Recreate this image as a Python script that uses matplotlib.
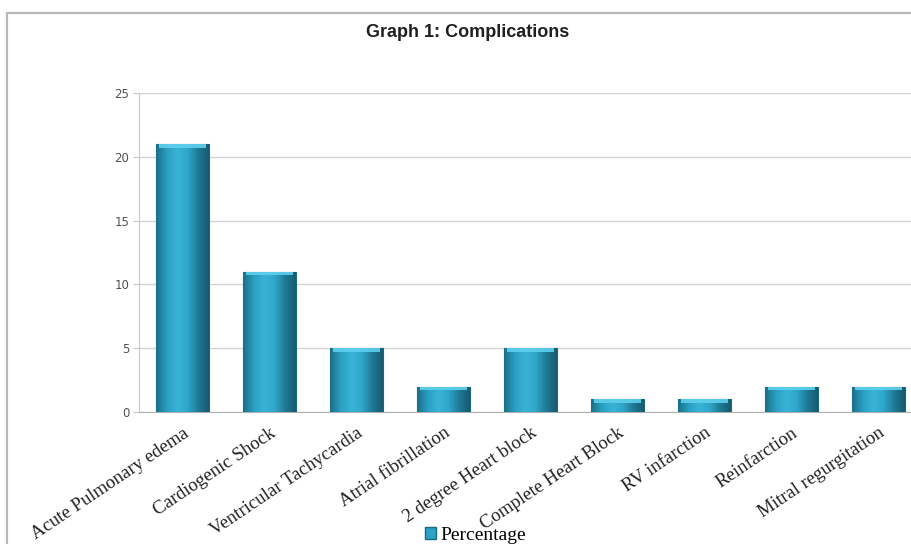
import numpy as np
import matplotlib
matplotlib.use("Agg")
import matplotlib.pyplot as plt
from matplotlib.colors import LinearSegmentedColormap
from matplotlib.patches import Rectangle, Patch

categories = [
    "Acute Pulmonary edema",
    "Cardiogenic Shock",
    "Ventricular Tachycardia",
    "Atrial fibrillation",
    "2 degree Heart block",
    "Complete Heart Block",
    "RV infarction",
    "Reinfarction",
    "Mitral regurgitation",
]
percentage = [21, 11, 5, 2, 5, 1, 1, 2, 2]
y_ticks = [0, 5, 10, 15, 20, 25]

bar_cmap = LinearSegmentedColormap.from_list(
    "bevel", ["#1b6f88", "#2a9fc2", "#38b3d6", "#2fa7ca", "#1f7a96", "#175b70"]
)


def shade_bars(ax, bars):
    grad = np.linspace(0, 1, 64).reshape(1, -1)
    for bar in bars:
        x0, y0 = bar.get_x(), bar.get_y()
        w, h = bar.get_width(), bar.get_height()
        im = ax.imshow(grad, cmap=bar_cmap, aspect="auto",
                       extent=(x0, x0 + w, y0, y0 + h), zorder=3)
        im.set_clip_path(bar)
        # light bevel along the top edge
        cap = 0.3
        ax.add_patch(Rectangle((x0 + w * 0.05, y0 + h - cap), w * 0.9, cap,
                               facecolor="#5fd0ee", edgecolor="none",
                               zorder=4, alpha=0.9))


def main():
    fig = plt.figure(figsize=(9.11, 5.44), dpi=100)
    fig.patch.set_facecolor("white")

    # outer chart frame
    fig.add_artist(Rectangle((0.0077, -0.05), 1.2, 0.976 + 0.05,
                             transform=fig.transFigure, facecolor="none",
                             edgecolor="#b8b8b8", linewidth=1.6))

    ax = fig.add_axes([0.1526, 0.2426, 0.8595, 0.5864])
    x = np.arange(len(categories))
    bars = ax.bar(x, percentage, width=0.6, color="#2aa3c6",
                  edgecolor="#1a6880", linewidth=0.8, zorder=2)
    shade_bars(ax, bars)

    ax.set_xlim(-0.5, len(categories) - 0.5)
    ax.set_ylim(0, 25)
    ax.set_yticks(y_ticks)
    ax.set_yticklabels([str(t) for t in y_ticks], fontsize=8.5,
                       color="#505050", family="DejaVu Sans")
    ax.tick_params(axis="y", length=4, color="#c8c8c8", pad=3)
    ax.tick_params(axis="x", length=0, pad=9)
    ax.set_xticks(x)
    ax.set_xticklabels(categories, rotation=34, ha="right",
                       rotation_mode="anchor", fontsize=13.5,
                       family="Liberation Serif", color="#222222")

    ax.grid(axis="y", color="#d3d3d3", linewidth=1.0, zorder=0)
    for side in ["top", "right"]:
        ax.spines[side].set_visible(False)
    ax.spines["left"].set_color("#c8c8c8")
    ax.spines["bottom"].set_color("#b0b0b0")

    fig.text(0.513, 0.940, "Graph 1: Complications", ha="center",
             va="center", fontsize=13, fontweight="bold",
             family="Liberation Sans", color="#202020")

    handle = Patch(facecolor="#2aa3c6", edgecolor="#1a6880")
    fig.legend([handle], ["Percentage"], loc="center",
               bbox_to_anchor=(0.522, 0.016), frameon=False,
               prop={"family": "Liberation Serif", "size": 14},
               handlelength=0.55, handleheight=0.55, handletextpad=0.25,
               borderpad=0.1)

    fig.savefig("out.png", dpi=100)


if __name__ == "__main__":
    main()
